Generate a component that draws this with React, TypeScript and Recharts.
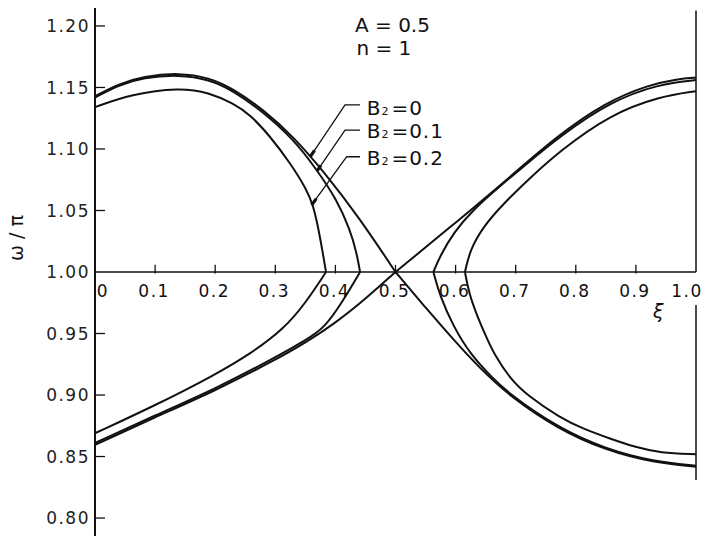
import React from 'react';
import { LineChart, Line, XAxis, YAxis, ReferenceLine, ReferenceDot } from 'recharts';

type Pt = [number, number];

// ξ (x) against ω/π (y) along each branch of the dispersion curves
// B2 = 0 : two crossing curves, split at ξ = 0.5
const b0UpperLeft: Pt[] = [[0, 1.143], [0.04, 1.153], [0.08, 1.159], [0.14, 1.162], [0.19, 1.158], [0.23, 1.149], [0.28, 1.132], [0.33, 1.11], [0.38, 1.082], [0.44, 1.044], [0.5, 1.0]];
const b0LowerRight: Pt[] = [[0.5, 1.0], [0.55, 0.971], [0.6, 0.943], [0.64, 0.922], [0.69, 0.899], [0.77, 0.8725], [0.85, 0.855], [0.93, 0.845], [1.0, 0.8417]];
const b0LowerLeft: Pt[] = [[0, 0.8595], [0.1, 0.882], [0.2, 0.9035], [0.3, 0.9285], [0.35, 0.9425], [0.4, 0.9585], [0.45, 0.978], [0.5, 1.0]];
const b0UpperRight: Pt[] = [[0.5, 1.0], [0.6, 1.04], [0.69, 1.077], [0.77, 1.111], [0.85, 1.138], [0.92, 1.152], [0.97, 1.157], [1.0, 1.158]];

// B2 = 0.1 : left and right loops, split at their tips on ω/π = 1
const b1LeftTop: Pt[] = [[0, 1.1418], [0.04, 1.152], [0.08, 1.158], [0.14, 1.1605], [0.19, 1.1565], [0.23, 1.1475], [0.28, 1.13], [0.33, 1.108], [0.3689, 1.0833], [0.4022, 1.0589], [0.4243, 1.0346], [0.4354, 1.0156], [0.441, 1.0]];
const b1LeftBottom: Pt[] = [[0, 0.861], [0.1, 0.8835], [0.2, 0.905], [0.3, 0.9305], [0.35, 0.9445], [0.382, 0.9545], [0.412, 0.976], [0.441, 1.0]];
const b1RightTop: Pt[] = [[0.563, 1.0], [0.574, 1.0128], [0.5962, 1.0319], [0.6295, 1.0508], [0.6739, 1.0698], [0.7183, 1.088], [0.774, 1.1105], [0.857, 1.1385], [0.94, 1.153], [1.0, 1.156]];
const b1RightBottom: Pt[] = [[0.563, 1.0], [0.574, 0.9803], [0.5962, 0.9559], [0.624, 0.9335], [0.66, 0.9145], [0.69, 0.9005], [0.77, 0.8735], [0.85, 0.856], [0.93, 0.846], [1.0, 0.8425]];

// B2 = 0.2 : left and right loops
const b2LeftTop: Pt[] = [[0, 1.134], [0.06, 1.1445], [0.14, 1.15], [0.19, 1.146], [0.23, 1.137], [0.2579, 1.128], [0.2912, 1.1104], [0.3245, 1.0888], [0.3522, 1.0671], [0.3635, 1.0535], [0.372, 1.0346], [0.379, 1.0156], [0.3844, 1.0]];
const b2LeftBottom: Pt[] = [[0, 0.8689], [0.1, 0.8915], [0.2, 0.9165], [0.26, 0.934], [0.3133, 0.9533], [0.35, 0.9745], [0.3844, 1.0]];
const b2RightTop: Pt[] = [[0.6156, 1.0], [0.624, 1.018], [0.6461, 1.037], [0.6794, 1.0555], [0.7238, 1.0765], [0.7737, 1.0985], [0.857, 1.128], [0.94, 1.1428], [1.0, 1.147]];
const b2RightBottom: Pt[] = [[0.6156, 1.0], [0.622, 0.983], [0.636, 0.964], [0.652, 0.946], [0.6656, 0.932], [0.6905, 0.9135], [0.7183, 0.9], [0.7737, 0.8815], [0.8125, 0.8725], [0.857, 0.8645], [0.9, 0.8575], [0.94, 0.853], [1.0, 0.8518]];

const branches = [
  b0UpperLeft, b0LowerRight, b0LowerLeft, b0UpperRight,
  b1LeftTop, b1LeftBottom, b1RightTop, b1RightBottom,
  b2LeftTop, b2LeftBottom, b2RightTop, b2RightBottom,
];

// leader lines from the B2 labels to their curves (label end, bend, tip)
const leaderB0: Pt[] = [[0.4409, 1.1358], [0.416, 1.1358], [0.3577, 1.0933]];
const leaderB1: Pt[] = [[0.4409, 1.1154], [0.416, 1.1154], [0.3699, 1.0824]];
const leaderB2: Pt[] = [[0.4409, 1.0937], [0.4188, 1.0937], [0.3606, 1.0545]];
const leaders = [leaderB0, leaderB1, leaderB2];

const b2Values = ['0', '0.1', '0.2'];
const b2LabelAnchors: Pt[] = [[0.452, 1.1276], [0.452, 1.1087], [0.452, 1.087]];

const xTicks = [0, 0.1, 0.2, 0.3, 0.4, 0.5, 0.6, 0.7, 0.8, 0.9, 1.0];
const xTickLabels = ['0', '0.1', '0.2', '0.3', '0.4', '0.5', '0.6', '0.7', '0.8', '0.9', '1.0'];
const yTicks = [0.8, 0.85, 0.9, 0.95, 1.0, 1.05, 1.1, 1.15, 1.2];

const FONT = '"DejaVu Sans", sans-serif';
const INK = '#111';

const toData = (pts: Pt[]) => pts.map(([x, y]) => ({ x, y }));

// short stub at the tip of a leader, drawn heavier as an arrowhead
const arrowHead = (pts: Pt[]) => {
  const [bx, by] = pts[pts.length - 2];
  const [tx, ty] = pts[pts.length - 1];
  return toData([[tx + (bx - tx) * 0.13, ty + (by - ty) * 0.13], [tx, ty]]);
};

const textLabel = (content: React.ReactNode, opts: { dx?: number; dy?: number; anchor?: string; size?: number; spacing?: number; italic?: boolean }) =>
  (props: any) => {
    const vb = props.viewBox || { x: 0, y: 0 };
    return (
      <text
        x={vb.x + (opts.dx || 0)}
        y={vb.y + (opts.dy || 0)}
        textAnchor={opts.anchor || 'start'}
        fontFamily={FONT}
        fontSize={opts.size || 20}
        letterSpacing={opts.spacing ?? 1.5}
        fontStyle={opts.italic ? 'italic' : 'normal'}
        fill={INK}
      >
        {content}
      </text>
    );
  };

const b2Text = (v: string) => (
  <>
    B<tspan fontSize={11}>2</tspan>
    <tspan dx={2}>={v}</tspan>
  </>
);

const YTick = (props: any) => (
  <text x={props.x} y={props.y} dy="0.36em" textAnchor="end" fontFamily={FONT} fontSize={17} letterSpacing={1.5} fill="#222">
    {Number(props.payload.value).toFixed(2)}
  </text>
);

const YTitle = (props: any) => {
  const vb = props.viewBox || { x: 0, y: 8, height: 528 };
  const cx = vb.x + 16;
  const cy = vb.y + vb.height / 2 - 34;
  return (
    <text x={cx} y={cy} transform={`rotate(-90 ${cx} ${cy})`} textAnchor="middle" dominantBaseline="central" fontFamily={FONT} fontSize={19} fill={INK}>
      ω / π
    </text>
  );
};

const App = () => {
  return (
    <div style={{ position: 'absolute', left: 0, top: 0, width: 707, height: 536, background: '#fff' }}>
      <LineChart width={707} height={536} margin={{ top: 8, right: 11, bottom: 0, left: 0 }}>
        <XAxis type="number" dataKey="x" domain={[0, 1]} hide />
        <YAxis
          type="number"
          domain={[0.7854, 1.2146]}
          ticks={yTicks}
          interval={0}
          width={95}
          tickLine={false}
          tickSize={0}
          tickMargin={5}
          axisLine={{ stroke: INK, strokeWidth: 2 }}
          tick={<YTick />}
          label={{ content: YTitle }}
        />

        {/* horizontal axis drawn at ω/π = 1 */}
        <ReferenceLine y={1} stroke={INK} strokeWidth={1.6} />
        {xTicks.slice(1, -1).map((t) => (
          <ReferenceLine key={`xt${t}`} segment={[{ x: t, y: 0.9988 }, { x: t, y: 1.0058 }]} stroke={INK} strokeWidth={1.3} />
        ))}
        {xTicks.map((t, i) => (
          <ReferenceDot
            key={`xl${t}`}
            x={t}
            y={1}
            r={0}
            fill="none"
            stroke="none"
            label={{ content: textLabel(xTickLabels[i], { dx: i === 0 ? 8 : i === xTicks.length - 1 ? -9 : -1, dy: 25, anchor: 'middle', size: 17 }) }}
          />
        ))}

        {/* inward ticks on the ω/π axis */}
        {yTicks.filter((v) => v !== 1).map((v) => (
          <ReferenceLine key={`yt${v}`} segment={[{ x: 0, y: v }, { x: 0.0166, y: v }]} stroke={INK} strokeWidth={1.3} />
        ))}

        {/* right-hand frame line at ξ = 1, broken around the ξ label */}
        <ReferenceLine segment={[{ x: 1, y: 1.2125 }, { x: 1, y: 1 }]} stroke={INK} strokeWidth={1.5} />
        <ReferenceLine segment={[{ x: 1, y: 0.9732 }, { x: 1, y: 0.8309 }]} stroke={INK} strokeWidth={1.5} />

        {branches.map((b, i) => (
          <Line
            key={`br${i}`}
            data={toData(b)}
            dataKey="y"
            type="basis"
            stroke={INK}
            strokeWidth={2}
            dot={false}
            activeDot={false}
            isAnimationActive={false}
          />
        ))}

        {leaders.map((l, i) => (
          <Line key={`ld${i}`} data={toData(l)} dataKey="y" type="linear" stroke={INK} strokeWidth={1.3} dot={false} activeDot={false} isAnimationActive={false} />
        ))}
        {leaders.map((l, i) => (
          <Line key={`ah${i}`} data={arrowHead(l)} dataKey="y" type="linear" stroke={INK} strokeWidth={3.2} dot={false} activeDot={false} isAnimationActive={false} />
        ))}

        {b2LabelAnchors.map(([x, y], i) => (
          <ReferenceDot key={`bl${i}`} x={x} y={y} r={0} fill="none" stroke="none" label={{ content: textLabel(b2Text(b2Values[i]), { spacing: 1 }) }} />
        ))}

        <ReferenceDot x={0.4326} y={1.195} r={0} fill="none" stroke="none" label={{ content: textLabel('A = 0.5', { spacing: 0 }) }} />
        <ReferenceDot x={0.435} y={1.1764} r={0} fill="none" stroke="none" label={{ content: textLabel('n = 1', { spacing: 0 }) }} />
        <ReferenceDot x={0.9384} y={0.9626} r={0} fill="none" stroke="none" label={{ content: textLabel('ξ', { anchor: 'middle', size: 19, italic: true }) }} />
      </LineChart>
    </div>
  );
};

export default App;
